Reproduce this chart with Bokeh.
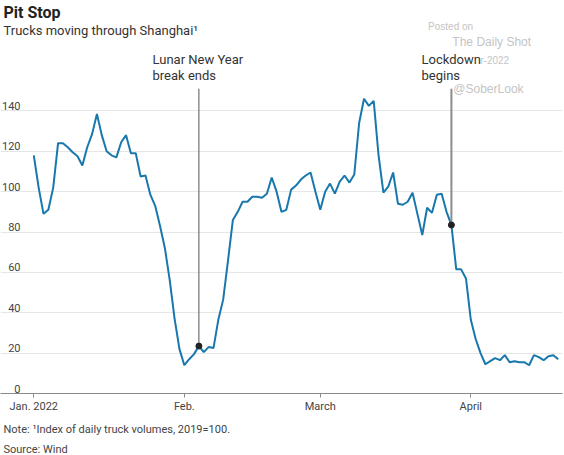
from bokeh.plotting import figure
from bokeh.models import (Label, LabelSet, ColumnDataSource, FixedTicker, Range1d, Title)
from bokeh.core.properties import value
from bokeh.embed import file_html
from bokeh.resources import INLINE

# ---- data -------------------------------------------------------------
# daily index values, starting Jan 1 2022 (day 0)
values = [118, 102, 89, 91, 102, 124, 124, 122, 119.5, 117.5,
          113, 122, 128.5, 138.5, 128, 120, 118, 117, 124.5, 128,
          119, 119, 107.5, 108, 98.5, 93, 83, 72, 56, 37,
          22, 14, 17, 19.5, 23.5, 20.5, 23, 22.5, 36.5, 46.5,
          66, 86, 90, 95, 95, 97.5, 97.5, 97, 99, 107,
          100, 90, 91, 101, 103, 106, 108, 109.5, 100, 91,
          100, 104, 99, 105, 108, 104.5, 108.5, 134, 146, 142.5,
          145, 118, 99.5, 102.5, 109.5, 94, 93.5, 95, 99.5, 89,
          78.5, 92, 89.5, 98.5, 99, 90, 83.5, 61.5, 61.5, 57,
          36.5, 27, 20, 14.5, 16, 17.5, 16.5, 19, 15.5, 16,
          15.5, 15.5, 14, 19, 18, 16.5, 18.5, 19, 17]
days = list(range(len(values)))

x_tick_days = [0, 31, 59, 90]
x_tick_labels = ["Jan. 2022", "Feb.", "March", "April"]
y_ticks = [0, 20, 40, 60, 80, 100, 120, 140]
y_tick_labels = ["0", "20", "40", "60", "80", "100", "120", "140"]

lunar_day = 34
lockdown_day = 86

FONT = "Roboto"
W, H = 564, 455
FRAME_BOTTOM = 61
frame_h = H - FRAME_BOTTOM

p = figure(width=W, height=H, output_backend="svg", toolbar_location=None,
           x_range=Range1d(-6.857, 108.88), y_range=Range1d(0, 194.7),
           min_border_left=0, min_border_right=2, min_border_top=0,
           min_border_bottom=FRAME_BOTTOM, outline_line_color=None)
p.background_fill_color = "white"
p.border_fill_color = "white"

# axes / grid
p.yaxis.visible = False
p.xgrid.visible = False
p.ygrid.ticker = FixedTicker(ticks=y_ticks[1:])
p.ygrid.grid_line_color = "#e6e6e6"
p.ygrid.grid_line_width = 1

ax = p.xaxis[0]
ax.ticker = FixedTicker(ticks=x_tick_days)
ax.major_label_overrides = {d: t for d, t in zip(x_tick_days, x_tick_labels)}
ax.axis_line_color = "#8a8a8a"
ax.axis_line_width = 1.2
ax.major_tick_line_color = "#8a8a8a"
ax.major_tick_out = 4
ax.major_tick_in = 0
ax.minor_tick_line_color = None
ax.major_label_standoff = 2
ax.major_label_text_font = FONT
ax.major_label_text_font_size = "11px"
ax.major_label_text_color = "#444444"

# notes below the axis
p.add_layout(Title(text="Note: \u00b9Index of daily truck volumes, 2019=100.",
                   align="left", text_font=FONT, text_font_size="11px",
                   text_color="#444444", text_font_style="normal",
                   standoff=10, offset=3), "below")
p.add_layout(Title(text="Source: Wind", align="left", text_font=FONT,
                   text_font_size="11px", text_color="#444444",
                   text_font_style="normal", standoff=0, offset=3), "below")

# y labels inside the plot, right aligned, just above gridlines
ysrc = ColumnDataSource(dict(y=y_ticks, text=y_tick_labels))
p.add_layout(LabelSet(x=20, y="y", text="text", source=ysrc, x_units="screen",
                      y_units="data", text_align="right", text_baseline="bottom",
                      y_offset=1, text_font=value(FONT), text_font_size=value("11px"),
                      text_color="#444444"))

# main line
p.line(days, values, line_color="#1878ad", line_width=2)

# event markers
line_top = 151
p.segment(x0=[lunar_day], y0=[values[lunar_day]], x1=[lunar_day], y1=[line_top],
          line_color="#555555", line_width=1)
p.segment(x0=[lockdown_day], y0=[values[lockdown_day]], x1=[lockdown_day],
          y1=[line_top], line_color="#8c8c8c", line_width=2)
p.scatter([lunar_day, lockdown_day], [values[lunar_day], values[lockdown_day]],
          size=6, color="#222222")


def lab(text, x, ref_y, size, color="#333333", xu="data", align="left",
        bold=False, font=FONT, bg=None):
    l = Label(x=x, y=frame_h - ref_y, x_units=xu, y_units="screen", text=text,
              text_font=font, text_font_size=size, text_color=color,
              text_align=align, text_baseline="middle",
              text_font_style="bold" if bold else "normal")
    if bg:
        l.background_fill_color = bg
    p.add_layout(l)


# watermark
wm = "#c4c4c4"
lab("Posted on", 81.2, 26.7, "10px", wm, font="Liberation Sans")
lab("The Daily Shot", 86.2, 42.7, "12px", wm, font="Liberation Sans")
lab("20-Apr-2022", 97.9, 61, "10px", wm, align="right", font="Liberation Sans")
lab("@SoberLook", 86.4, 89.3, "12px", wm, font="Liberation Sans")

# annotations
lab("Lunar New Year", 24.45, 60, "13px")
lab("break ends", 24.45, 76, "13px")
lab("Lockdown", 79.84, 60, "13px", bg="white")
lab("begins", 79.84, 76, "13px")

# title / subtitle
lab("Pit Stop", 3, 12.5, "16px", "#222222", xu="screen", bold=True)
lab("Trucks moving through Shanghai\u00b9", 3, 31, "13px", "#333333", xu="screen")

open("out.html", "w").write(file_html(p, INLINE))
